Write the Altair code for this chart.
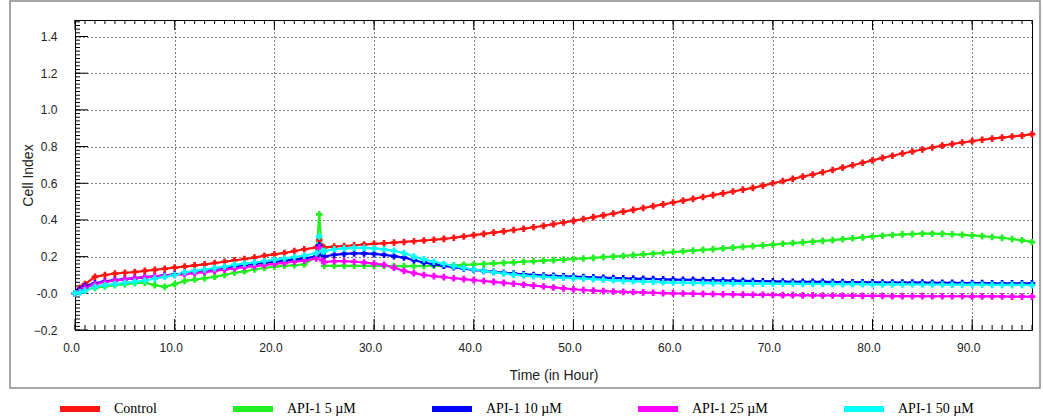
import altair as alt
import pandas as pd
import numpy as np

# ---------------- data ----------------
times = [0, 0.5] + list(range(1, 24)) + [24.2, 24.5, 24.8] + list(range(25, 97))

series_names = ["Control", "API-1 5 µM", "API-1 10 µM", "API-1 25 µM", "API-1 50 µM"]
series_colors = ["#FF1414", "#22F022", "#0000FF", "#FF00FF", "#00FFFF"]

control = [0.0, 0.03,
           0.05, 0.09, 0.10, 0.107, 0.112, 0.116, 0.122, 0.128, 0.134, 0.14,
           0.146, 0.152, 0.158, 0.165, 0.172, 0.18, 0.187, 0.195, 0.205, 0.212,
           0.22, 0.23, 0.24,
           0.25, 0.29, 0.255,
           0.25, 0.255, 0.258, 0.262, 0.266, 0.27,
           0.273, 0.276, 0.28, 0.284, 0.288, 0.292, 0.297, 0.303, 0.31, 0.317,
           0.324, 0.331, 0.338, 0.345, 0.352, 0.36, 0.368, 0.377, 0.386, 0.395,
           0.405, 0.415, 0.425, 0.435, 0.445, 0.455, 0.465, 0.475, 0.485, 0.495,
           0.505, 0.515, 0.525, 0.535, 0.545, 0.555, 0.565, 0.575, 0.587, 0.6,
           0.612, 0.624, 0.636, 0.648, 0.66, 0.672, 0.685, 0.698, 0.712, 0.725,
           0.738, 0.75, 0.762, 0.773, 0.784, 0.795, 0.805, 0.814, 0.822, 0.83,
           0.837, 0.843, 0.849, 0.855, 0.86, 0.868]

api_5 = [0.0, 0.01,
         0.02, 0.03, 0.038, 0.045, 0.05, 0.055, 0.058, 0.045, 0.035, 0.05,
         0.068, 0.075, 0.082, 0.09, 0.1, 0.112, 0.12, 0.13, 0.138, 0.145,
         0.15, 0.153, 0.157,
         0.2, 0.43, 0.2,
         0.15, 0.15, 0.15, 0.15, 0.15, 0.15,
         0.149, 0.148, 0.148, 0.148, 0.149, 0.15, 0.151, 0.153, 0.155, 0.157,
         0.16, 0.163, 0.166, 0.169, 0.172, 0.175, 0.178, 0.181, 0.184, 0.187,
         0.19, 0.193, 0.197, 0.2, 0.204, 0.208, 0.212, 0.216, 0.22, 0.225,
         0.229, 0.233, 0.237, 0.241, 0.245, 0.249, 0.253, 0.257, 0.261, 0.265,
         0.27, 0.274, 0.278, 0.282, 0.286, 0.29, 0.295, 0.3, 0.305, 0.31,
         0.314, 0.318, 0.321, 0.323, 0.325, 0.325, 0.324, 0.322, 0.319, 0.316,
         0.312, 0.307, 0.302, 0.296, 0.289, 0.28]

api_10 = [0.0, 0.02,
          0.04, 0.055, 0.065, 0.072, 0.078, 0.083, 0.088, 0.093, 0.098, 0.103,
          0.108, 0.115, 0.122, 0.13, 0.138, 0.146, 0.153, 0.16, 0.166, 0.172,
          0.178, 0.184, 0.19,
          0.2, 0.26, 0.21,
          0.2, 0.21, 0.215, 0.218, 0.218, 0.215,
          0.21, 0.203, 0.195, 0.18, 0.168, 0.158, 0.15, 0.142, 0.135, 0.128,
          0.122, 0.117, 0.112, 0.108, 0.104, 0.1, 0.097, 0.095, 0.093, 0.091,
          0.089, 0.087, 0.085, 0.083, 0.082, 0.08, 0.079, 0.078, 0.076, 0.075,
          0.074, 0.073, 0.072, 0.071, 0.07, 0.069, 0.068, 0.067, 0.066, 0.065,
          0.064, 0.063, 0.063, 0.062, 0.062, 0.061, 0.061, 0.06, 0.06, 0.06,
          0.059, 0.059, 0.058, 0.058, 0.058, 0.057, 0.057, 0.057, 0.056, 0.056,
          0.056, 0.055, 0.055, 0.055, 0.055, 0.054]

api_25 = [0.0, 0.01,
          0.03, 0.05, 0.062, 0.07, 0.076, 0.082, 0.087, 0.092, 0.097, 0.1,
          0.105, 0.11, 0.116, 0.122, 0.129, 0.136, 0.142, 0.148, 0.154, 0.16,
          0.166, 0.172, 0.178,
          0.19, 0.25, 0.18,
          0.17, 0.175, 0.175, 0.172, 0.168, 0.162,
          0.155, 0.14, 0.122, 0.11, 0.1, 0.094, 0.088, 0.082, 0.077, 0.072,
          0.067, 0.062, 0.057, 0.052, 0.047, 0.042, 0.037, 0.032, 0.027, 0.022,
          0.018, 0.015, 0.012, 0.01, 0.008, 0.007, 0.005, 0.003, 0.001, 0.0,
          -0.001, -0.002, -0.003, -0.004, -0.005, -0.006, -0.007, -0.008, -0.008, -0.009,
          -0.01, -0.01, -0.011, -0.011, -0.012, -0.012, -0.013, -0.013, -0.014, -0.014,
          -0.014, -0.015, -0.015, -0.015, -0.015, -0.016, -0.016, -0.016, -0.016, -0.017,
          -0.017, -0.017, -0.017, -0.018, -0.018, -0.018]

api_50 = [0.0, 0.005,
          0.015, 0.035, 0.045, 0.05, 0.057, 0.062, 0.07, 0.08, 0.09, 0.1,
          0.115, 0.122, 0.13, 0.137, 0.145, 0.155, 0.162, 0.168, 0.175, 0.182,
          0.19, 0.198, 0.205,
          0.22, 0.31, 0.23,
          0.23, 0.24, 0.245, 0.248, 0.248, 0.245,
          0.24, 0.232, 0.22, 0.2, 0.185, 0.172, 0.16, 0.148, 0.138, 0.13,
          0.122, 0.115, 0.108, 0.102, 0.097, 0.093, 0.09, 0.087, 0.085, 0.083,
          0.08, 0.077, 0.074, 0.071, 0.068, 0.066, 0.064, 0.062, 0.06, 0.059,
          0.058, 0.057, 0.056, 0.055, 0.055, 0.054, 0.054, 0.053, 0.053, 0.052,
          0.052, 0.052, 0.051, 0.051, 0.051, 0.05, 0.05, 0.05, 0.05, 0.049,
          0.049, 0.049, 0.049, 0.048, 0.048, 0.048, 0.048, 0.047, 0.047, 0.047,
          0.047, 0.046, 0.046, 0.046, 0.046, 0.045]

# tick positions for the inward-pointing axis ticks
x_major_ticks = [0, 10, 20, 30, 40, 50, 60, 70, 80, 90]
x_minor_ticks = list(range(0, 97))
y_major_ticks = [-0.2, 0.0, 0.2, 0.4, 0.6, 0.8, 1.0, 1.2, 1.4]
y_minor_ticks = [round(v, 2) for v in np.arange(-0.2, 1.49, 0.02)]

all_series = [control, api_5, api_10, api_25, api_50]
rows = []
for name, vals in zip(series_names, all_series):
    assert len(vals) == len(times), (name, len(vals))
    for t, v in zip(times, vals):
        rows.append({"Time": t, "Cell Index": v, "Series": name})
df = pd.DataFrame(rows)

# ---------------- chart ----------------
W, H = 957, 310
X_TITLE = "Time (in Hour)"
Y_TITLE = "Cell Index"
xscale = alt.Scale(domain=[0, 96], nice=False, zero=False)
yscale = alt.Scale(domain=[-0.2, 1.49], nice=False, zero=False)

xenc = alt.X("Time:Q", scale=xscale, title=X_TITLE)
yenc = alt.Y("Cell Index:Q", scale=yscale, title=Y_TITLE)

color_scale = alt.Scale(domain=series_names, range=series_colors)

lines = alt.Chart(df).mark_line(strokeWidth=2.2).encode(
    x=xenc,
    y=yenc,
    color=alt.Color(
        "Series:N",
        scale=color_scale,
        sort=series_names,
        legend=alt.Legend(
            title=None,
            orient="none",
            direction="horizontal",
            legendX=-18,
            legendY=366,
            symbolType="stroke",
            symbolStrokeWidth=6,
            symbolSize=1600,
            labelFont="Liberation Serif",
            labelFontSize=14,
            labelColor="black",
            labelOffset=11,
            columnPadding=64,
        ),
    ),
)

points = alt.Chart(df).mark_point(shape="cross", filled=True, size=44, opacity=1).encode(
    x=xenc,
    y=yenc,
    color=alt.Color("Series:N", scale=color_scale, sort=series_names, legend=None),
)

tick_style = dict(color="black", strokeWidth=1)

def xticks(vals, y0, y1):
    return alt.Chart(pd.DataFrame({"Time": vals})).mark_rule(**tick_style).encode(
        x=xenc, y=alt.value(y0), y2=alt.value(y1)
    )

def yticks(vals, length):
    return alt.Chart(pd.DataFrame({"Cell Index": vals})).mark_rule(**tick_style).encode(
        y=yenc, x=alt.value(0), x2=alt.value(length)
    )

frame = alt.Chart(pd.DataFrame({"k": [0]})).mark_rect(
    fillOpacity=0, stroke="#8a8a8a", strokeWidth=1.5
).encode(
    x=alt.value(-65), x2=alt.value(965), y=alt.value(-19), y2=alt.value(368)
)

chart = alt.layer(
    frame,
    xticks(x_minor_ticks, H, H - 5),
    xticks(x_major_ticks, H, H - 11),
    xticks(x_minor_ticks, 0, 4),
    xticks(x_major_ticks, 0, 10),
    yticks(y_minor_ticks, 5),
    yticks(y_major_ticks, 13),
    lines,
    points,
).properties(
    width=W,
    height=H,
    autosize=alt.AutoSizeParams(type="none"),
    padding={"left": 75, "top": 20, "right": 11, "bottom": 86},
    background="white",
).configure_view(
    stroke="black", strokeWidth=1
).configure_axis(
    labelFont="Liberation Sans",
    labelFontSize=12,
    labelColor="#222222",
    titleFont="Liberation Sans",
    titleFontSize=14,
    titleFontWeight="normal",
    titleColor="#222222",
    ticks=False,
    domain=False,
    grid=True,
    gridColor="black",
    gridOpacity=1,
    gridDash=[1, 3],
    gridWidth=1,
    labelFlush=False,
).configure_axisX(
    tickCount=10,
    labelExpr="format(datum.value, '.1f')",
    labelPadding=12,
    labelOffset=-4,
    titlePadding=15,
).configure_axisY(
    tickCount=9,
    labelExpr="abs(datum.value) < 1e-9 ? '-0.0' : format(datum.value, '.1f')",
    labelPadding=18,
    titlePadding=-2,
)

chart.save("out.html", embed_options={"renderer": "svg", "actions": False})
